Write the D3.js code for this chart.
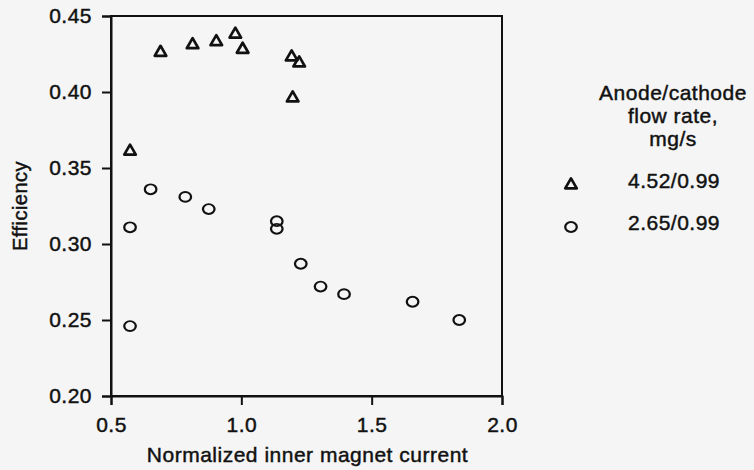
<!DOCTYPE html>
<html>
<head>
<meta charset="utf-8">
<script src="https://cdn.jsdelivr.net/npm/d3@7"></script>
<style>
  html, body { margin: 0; padding: 0; background: #f4f5f4; }
  svg { display: block; }
  text { font-family: "Liberation Sans", Arial, sans-serif; fill: #111; stroke: #111; stroke-width: 0.45px; letter-spacing: 0.5px; }
</style>
</head>
<body>
<svg id="chart" width="754" height="470"></svg>
<script>
// Thruster efficiency vs. normalized inner magnet current, two flow-rate cases
const highFlowCurrent = [0.573, 0.690, 0.813, 0.904, 0.977, 1.005, 1.193, 1.222, 1.197];
const highFlowEff     = [0.361, 0.426, 0.431, 0.433, 0.438, 0.428, 0.423, 0.419, 0.396];

const lowFlowCurrent = [0.573, 0.573, 0.652, 0.785, 0.875, 1.136, 1.136, 1.228, 1.304, 1.394, 1.657, 1.836];
const lowFlowEff     = [0.311, 0.246, 0.336, 0.331, 0.323, 0.315, 0.310, 0.287, 0.272, 0.267, 0.262, 0.250];

const xTicks = [0.5, 1.0, 1.5, 2.0];
const yTicks = [0.20, 0.25, 0.30, 0.35, 0.40, 0.45];

const legendTitle = ["Anode/cathode", "flow rate,", "mg/s"];
const seriesLabels = ["4.52/0.99", "2.65/0.99"];

const svg = d3.select("#chart");
const plotLeft = 111, plotRight = 502, plotTop = 16, plotBottom = 396;
const fontSize = 21;

const x = d3.scaleLinear().domain([0.5, 2.0]).range([plotLeft, plotRight]);
const y = d3.scaleLinear().domain([0.20, 0.45]).range([plotBottom, plotTop]);

// frame
svg.append("rect")
  .attr("x", plotLeft).attr("y", plotTop)
  .attr("width", plotRight - plotLeft).attr("height", plotBottom - plotTop)
  .attr("fill", "none").attr("stroke", "#111").attr("stroke-width", 2);

// axes
const xAxis = d3.axisBottom(x).tickValues(xTicks).tickFormat(d3.format(".1f")).tickSize(9).tickPadding(12);
const yAxis = d3.axisLeft(y).tickValues(yTicks).tickFormat(d3.format(".2f")).tickSize(9).tickPadding(10);

const gx = svg.append("g").attr("transform", `translate(0,${plotBottom})`).call(xAxis);
const gy = svg.append("g").attr("transform", `translate(${plotLeft},0)`).call(yAxis);
[gx, gy].forEach(g => {
  g.select(".domain").attr("stroke", "#111").attr("stroke-width", 2);
  g.selectAll(".tick line").attr("stroke", "#111").attr("stroke-width", 2);
  g.selectAll(".tick text").attr("font-size", fontSize).attr("fill", "#111")
    .style("font-family", "'Liberation Sans', Arial, sans-serif");
});

// axis titles
svg.append("text")
  .attr("x", (plotLeft + plotRight) / 2 + 1).attr("y", 462)
  .attr("text-anchor", "middle").attr("font-size", fontSize)
  .text("Normalized inner magnet current");

svg.append("text")
  .attr("transform", `translate(27,206) rotate(-90)`)
  .attr("text-anchor", "middle").attr("font-size", fontSize - 1)
  .text("Efficiency");

// symbols
const triangle = d3.symbol().type(d3.symbolTriangle).size(58);
const circle = d3.symbol().type(d3.symbolCircle).size(90);

const tri = highFlowCurrent.map((c, i) => ({ c, e: highFlowEff[i] }));
const cir = lowFlowCurrent.map((c, i) => ({ c, e: lowFlowEff[i] }));

svg.append("g").selectAll("path").data(tri).join("path")
  .attr("d", triangle)
  .attr("transform", d => `translate(${x(d.c)},${y(d.e)})`)
  .attr("fill", "none").attr("stroke", "#111").attr("stroke-width", 2.7)
  .attr("stroke-linejoin", "round");

svg.append("g").selectAll("path").data(cir).join("path")
  .attr("d", circle)
  .attr("transform", d => `translate(${x(d.c)},${y(d.e)}) scale(1.08,0.92)`)
  .attr("fill", "none").attr("stroke", "#111").attr("stroke-width", 2.1);

// legend
const lg = svg.append("g");
const titleBaselines = [100, 123, 146];
legendTitle.forEach((t, i) => {
  lg.append("text")
    .attr("x", 673).attr("y", titleBaselines[i])
    .attr("text-anchor", "middle").attr("font-size", fontSize)
    .text(t);
});
const legendRows = [
  { sym: triangle, label: seriesLabels[0], yy: 185, sw: 2.7, sc: "" },
  { sym: circle, label: seriesLabels[1], yy: 227, sw: 2.1, sc: " scale(1.08,0.92)" }
];
legendRows.forEach(r => {
  lg.append("path").attr("d", r.sym)
    .attr("transform", `translate(571,${r.yy})${r.sc}`)
    .attr("fill", "none").attr("stroke", "#111").attr("stroke-width", r.sw)
    .attr("stroke-linejoin", "round");
  lg.append("text")
    .attr("x", 674).attr("y", r.yy + 3)
    .attr("text-anchor", "middle").attr("font-size", fontSize)
    .text(r.label);
});
</script>
</body>
</html>
